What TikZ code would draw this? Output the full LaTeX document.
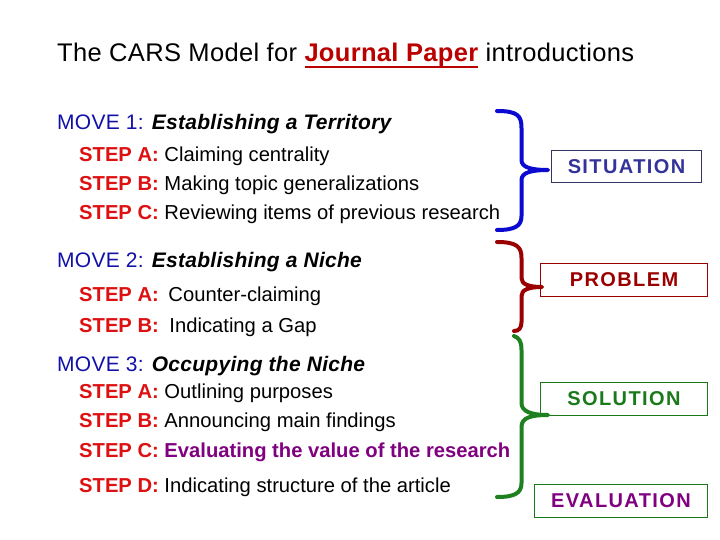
\documentclass[tikz,border=0pt]{standalone}
\usepackage{fontspec}
\setmainfont{Liberation Sans}
\newfontfamily\boxfont[LetterSpace=7]{Liberation Sans}
\newfontfamily\widefont[LetterSpace=1.3]{Liberation Sans}
\definecolor{stepred}{HTML}{DD1111}
\definecolor{moveblue}{HTML}{1111AA}
\definecolor{titlered}{HTML}{BB0000}
\definecolor{braceblue}{HTML}{0A0AD0}
\definecolor{bracered}{HTML}{9B0000}
\definecolor{bracegreen}{HTML}{1F8020}
\definecolor{sitblue}{HTML}{333399}
\definecolor{sitborder}{HTML}{333366}
\definecolor{solgreen}{HTML}{1A7A1A}
\definecolor{evalpurple}{HTML}{800080}
\newcommand\myul[1]{\setbox0\hbox{#1}\rlap{\rule[-6.5pt]{\wd0}{2pt}}\box0}
\newcommand\stp[1]{{\bfseries\color{stepred}STEP #1:}}
\begin{document}
\begin{tikzpicture}[x=1pt,y=-1pt,
  ttl/.style={anchor=base west, inner sep=0pt, font=\widefont\fontsize{25.5}{30}\selectfont},
  txt/.style={anchor=base west, inner sep=0pt, font=\fontsize{20.2}{24}\selectfont},
  mv/.style={anchor=base west, inner sep=0pt, font=\widefont\fontsize{21}{25}\selectfont},
  lbl/.style={inner sep=0pt, font=\boxfont\bfseries\fontsize{20}{24}\selectfont},
  frame/.style={line width=1pt},
  brace/.style={line width=4pt, line cap=round, line join=round}]
\useasboundingbox (0,0) rectangle (720,540);
\fill[white] (0,0) rectangle (720,540);

% title
\node[ttl] (title) at (57,62) {The CARS Model for {\bfseries\color{titlered}\myul{Journal Paper}} introductions};

% move 1
\node[mv] (m1) at (57,130) {{\color{moveblue}MOVE 1:} \textbf{\itshape Establishing a Territory}};
\node[txt] (m1a) at (79,162) {\stp{A} Claiming centrality};
\node[txt] (m1b) at (79,191) {\stp{B} Making topic generalizations};
\node[txt] (m1c) at (79,219) {\stp{C} Reviewing items of previous research};

% move 2
\node[mv] (m2) at (57,267) {{\color{moveblue}MOVE 2:} \textbf{\itshape Establishing a Niche}};
\node[txt] (m2a) at (79,301) {\stp{A}\hspace{4pt} Counter-claiming};
\node[txt] (m2b) at (79,332) {\stp{B}\hspace{5pt} Indicating a Gap};

% move 3
\node[mv] (m3) at (57,371) {{\color{moveblue}MOVE 3:} \textbf{\itshape Occupying the Niche}};
\node[txt] (m3a) at (79,398) {\stp{A} Outlining purposes};
\node[txt] (m3b) at (79,427) {\stp{B} Announcing main findings};
\node[txt] (m3c) at (79,457) {\stp{C} {\bfseries\color{evalpurple}Evaluating the value of the research}};
\node[txt] (m3d) at (79,492) {\stp{D} Indicating structure of the article};

% boxes
\node[lbl, minimum width=149pt, minimum height=31pt] (sit) at (626.5,166.5) {{\color{sitblue}SITUATION}};
\node[lbl, minimum width=166pt, minimum height=32pt] (prob) at (624,280) {{\color{bracered}PROBLEM}};
\node[lbl, minimum width=166pt, minimum height=32pt] (sol) at (624,399) {{\color{solgreen}SOLUTION}};
\node[lbl, minimum width=172pt, minimum height=32pt] (eval) at (621,501) {{\color{evalpurple}EVALUATION}};
\draw[frame, sitborder] (sit.south west) rectangle (sit.north east);
\draw[frame, bracered] (prob.south west) rectangle (prob.north east);
\draw[frame, solgreen] (sol.south west) rectangle (sol.north east);
\draw[frame, solgreen] (eval.south west) rectangle (eval.north east);

% braces
\coordinate (b1t) at (497,111);
\coordinate (b1m) at (548,170);
\coordinate (b1b) at (497,230);
\draw[brace, braceblue] (b1t) .. controls (518,111) and (521.5,116) .. (521.5,128) -- (521.5,160)
  .. controls (521.5,167) and (530,170) .. (b1m)
  .. controls (530,170) and (521.5,173) .. (521.5,180) -- (521.5,216)
  .. controls (521.5,226) and (515,230) .. (b1b);

\coordinate (b2t) at (497,242);
\coordinate (b2m) at (542,287);
\coordinate (b2b) at (514,331);
\draw[brace, bracered] (b2t) .. controls (517,242) and (521.5,247) .. (521.5,258) -- (521.5,278)
  .. controls (521.5,284) and (528,287) .. (b2m)
  .. controls (528,287) and (521.5,290) .. (521.5,296) -- (521.5,322)
  .. controls (521.5,328) and (519,331) .. (b2b);

\coordinate (b3t) at (514,336);
\coordinate (b3m) at (548,415);
\coordinate (b3b) at (497,497);
\draw[brace, bracegreen] (b3t) .. controls (519,338) and (521.5,341) .. (521.5,350) -- (521.5,403)
  .. controls (521.5,411) and (530,415) .. (b3m)
  .. controls (530,415) and (521.5,418) .. (521.5,427) -- (521.5,483)
  .. controls (521.5,493) and (515,497) .. (b3b);
\end{tikzpicture}
\end{document}
